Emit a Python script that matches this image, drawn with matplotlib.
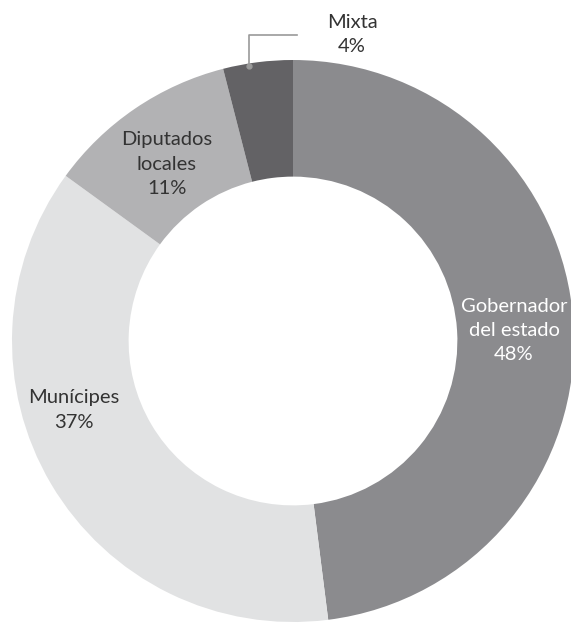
import matplotlib.pyplot as plt

labels = ['Gobernador\ndel estado', 'Munícipes', 'Diputados\nlocales', 'Mixta']
values = [48, 37, 11, 4]
colors = ['#8b8b8e', '#e1e2e3', '#b2b2b4', '#636265']
text_colors = ['white', '#333333', '#333333', '#333333']
# label centres in pixel coords (x, y from top)
label_pos = [(514, 331), (74, 410), (167, 164), (352, 34)]

plt.rcParams['font.family'] = ['Lato', 'DejaVu Sans']

W, H = 571, 624
fig = plt.figure(figsize=(W / 100, H / 100), dpi=100)
ax = fig.add_axes([0, 0, 1, 1])
cx, cy, r = 293, H - 341, 281

ax.pie(values, colors=colors, startangle=90, counterclock=False,
       radius=r, center=(cx, cy), wedgeprops=dict(width=r * 0.415, linewidth=0))

for lab, v, (x, y), c in zip(labels, values, label_pos, text_colors):
    ax.text(x, H - y, f'{lab}\n{v}%', ha='center', va='center', color=c,
            fontsize=14.5, linespacing=1.5)

# leader line for Mixta
ax.plot([249, 249, 297], [H - 66, H - 35, H - 35], color='#9a9a9a', lw=1.2)
ax.plot([249], [H - 66], 'o', color='#9a9a9a', ms=3.5)

ax.set_xlim(0, W)
ax.set_ylim(0, H)
ax.set_aspect('equal')
ax.axis('off')
fig.savefig('out.png', dpi=100)
